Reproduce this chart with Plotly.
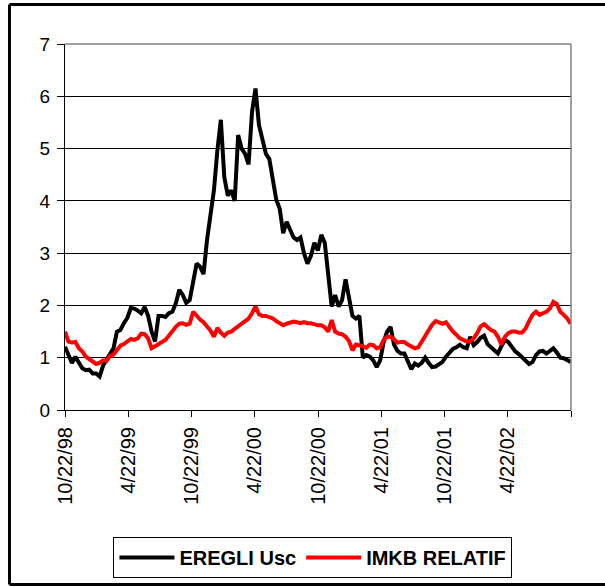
import pandas as pd
import plotly.graph_objects as go

start_date = "1998-10-22"
n_points = 147
dates = pd.date_range(start_date, periods=n_points, freq="10D")

eregli_usc = [
    1.21, 1.05, 0.90, 1.02, 0.92, 0.80, 0.76, 0.77, 0.70, 0.70,
    0.64, 0.85, 0.96, 1.08, 1.18, 1.50, 1.53, 1.66, 1.76, 1.95,
    1.94, 1.90, 1.85, 1.97, 1.80, 1.50, 1.31, 1.80, 1.80, 1.78,
    1.85, 1.88, 2.04, 2.30, 2.20, 2.05, 2.10, 2.45, 2.80, 2.74,
    2.60, 3.25, 3.75, 4.20, 4.97, 5.55, 4.45, 4.10, 4.20, 4.00,
    5.26, 5.00, 4.90, 4.70, 5.70, 6.15, 5.45, 5.20, 4.90, 4.80,
    4.45, 4.02, 3.85, 3.38, 3.60, 3.44, 3.30, 3.25, 3.30, 3.00,
    2.80, 2.95, 3.20, 3.05, 3.35, 3.20, 2.55, 1.98, 2.20, 1.98,
    2.10, 2.50, 2.15, 1.80, 1.75, 1.80, 1.00, 1.05, 1.02, 0.95,
    0.82, 0.95, 1.30, 1.50, 1.59, 1.25, 1.13, 1.08, 1.08, 0.95,
    0.78, 0.89, 0.85, 0.90, 1.00, 0.90, 0.82, 0.83, 0.88, 0.92,
    1.02, 1.10, 1.17, 1.20, 1.25, 1.20, 1.18, 1.40, 1.24, 1.30,
    1.38, 1.42, 1.26, 1.20, 1.13, 1.08, 1.22, 1.34, 1.30, 1.20,
    1.12, 1.07, 1.00, 0.95, 0.88, 0.92, 1.05, 1.12, 1.13, 1.08,
    1.12, 1.18, 1.10, 1.00, 0.99, 0.95, 0.92,
]

imkb_relatif = [
    1.50, 1.31, 1.29, 1.30, 1.18, 1.12, 1.02, 0.98, 0.92, 0.88,
    0.90, 0.95, 0.94, 1.03, 1.06, 1.15, 1.23, 1.26, 1.30, 1.36,
    1.34, 1.37, 1.46, 1.45, 1.37, 1.18, 1.22, 1.27, 1.30, 1.34,
    1.42, 1.52, 1.59, 1.65, 1.66, 1.63, 1.65, 1.88, 1.80, 1.73,
    1.68, 1.60, 1.52, 1.40, 1.57, 1.48, 1.42, 1.48, 1.50, 1.55,
    1.60, 1.66, 1.70, 1.75, 1.85, 1.98, 1.83, 1.80, 1.80, 1.78,
    1.75, 1.70, 1.67, 1.62, 1.65, 1.67, 1.69, 1.68, 1.66, 1.68,
    1.66, 1.66, 1.63, 1.62, 1.62, 1.58, 1.50, 1.72, 1.50, 1.46,
    1.45, 1.40, 1.32, 1.14, 1.25, 1.24, 1.22, 1.19, 1.25, 1.24,
    1.18, 1.20, 1.34, 1.40, 1.40, 1.35, 1.29, 1.30, 1.30, 1.25,
    1.21, 1.18, 1.20, 1.31, 1.42, 1.55, 1.63, 1.70, 1.68, 1.65,
    1.68, 1.58, 1.50, 1.44, 1.37, 1.34, 1.31, 1.31, 1.37, 1.47,
    1.60, 1.64, 1.58, 1.53, 1.50, 1.40, 1.25, 1.40, 1.47, 1.50,
    1.50, 1.48, 1.48, 1.56, 1.70, 1.82, 1.88, 1.82, 1.85, 1.88,
    1.94, 2.07, 2.03, 1.88, 1.82, 1.75, 1.65,
]

tick_dates = ["1998-10-22", "1999-04-22", "1999-10-22", "2000-04-22",
              "2000-10-22", "2001-04-22", "2001-10-22", "2002-04-22",
              "2002-10-22"]
tick_labels = ["10/22/98", "4/22/99", "10/22/99", "4/22/00",
               "10/22/00", "4/22/01", "10/22/01", "4/22/02", ""]
y_ticks = [0, 1, 2, 3, 4, 5, 6, 7]

series_names = ["EREGLI Usc", "IMKB RELATIF"]
series_colors = ["#000000", "#FF0000"]

FONT = "Liberation Sans, Arial, sans-serif"

fig = go.Figure()
for name, vals, col in zip(series_names, [eregli_usc, imkb_relatif], series_colors):
    fig.add_trace(go.Scatter(
        x=dates, y=vals, mode="lines", name=name,
        line=dict(color=col, width=4),
    ))

# outer chart frame (left, top, bottom edges; the right edge lies outside the picture)
frame_left, frame_right, frame_bottom, frame_top = -0.1097, 1.2, -0.4768, 1.108
frame_line = dict(color="black", width=3)

fig.update_layout(
    width=605, height=587,
    margin=dict(l=65, r=34, t=44, b=177, autoexpand=False),
    paper_bgcolor="white", plot_bgcolor="white",
    font=dict(family=FONT, color="black", size=18),
    showlegend=True,
    legend=dict(
        orientation="h", x=0.490, xanchor="center", y=-0.347, yanchor="top",
        bordercolor="black", borderwidth=1, bgcolor="white",
        font=dict(family=FONT, size=20, weight="bold"),
        itemwidth=55, entrywidth=0,
    ),
    xaxis=dict(
        type="date", range=[tick_dates[0], tick_dates[-1]],
        tickmode="array", tickvals=tick_dates, ticktext=tick_labels,
        tickangle=-90, ticks="outside", ticklen=6, tickcolor="black",
        showline=True, linecolor="black", linewidth=1,
        showgrid=False, zeroline=False,
        tickfont=dict(family=FONT, size=20),
        ticklabelstandoff=2,
    ),
    yaxis=dict(
        range=[0, 7], tickmode="array", tickvals=y_ticks,
        ticks="outside", ticklen=7, tickcolor="black",
        showline=True, linecolor="black", linewidth=1,
        showgrid=True, gridcolor="black", gridwidth=1,
        zeroline=False,
        tickfont=dict(family=FONT, size=19),
        ticklabelstandoff=3,
    ),
    shapes=[
        # gray plot-area border (top and right)
        dict(type="line", xref="paper", yref="paper", x0=0, x1=1, y0=1, y1=1,
             line=dict(color="#808080", width=1.5), layer="above"),
        dict(type="line", xref="paper", yref="paper", x0=1, x1=1, y0=0, y1=1,
             line=dict(color="#808080", width=1.5), layer="above"),
        dict(type="line", xref="paper", yref="paper", x0=frame_left, x1=frame_left,
             y0=frame_bottom, y1=frame_top, line=frame_line, layer="above"),
        dict(type="line", xref="paper", yref="paper", x0=frame_left, x1=frame_right,
             y0=frame_top, y1=frame_top, line=frame_line, layer="above"),
        dict(type="line", xref="paper", yref="paper", x0=frame_left, x1=frame_right,
             y0=frame_bottom, y1=frame_bottom, line=frame_line, layer="above"),
    ],
)

fig.write_html(
    "out.html",
    config={"displayModeBar": False},
    post_script="document.body.style.margin='0';document.body.style.overflow='hidden';",
)
